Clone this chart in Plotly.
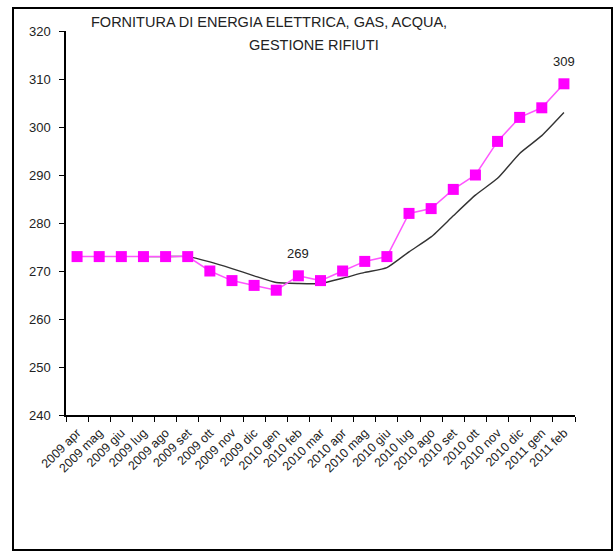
import plotly.graph_objects as go

# Monthly index, April 2009 - February 2011
months = [
    "2009 apr", "2009 mag", "2009 giu", "2009 lug", "2009 ago", "2009 set",
    "2009 ott", "2009 nov", "2009 dic", "2010 gen", "2010 feb", "2010 mar",
    "2010 apr", "2010 mag", "2010 giu", "2010 lug", "2010 ago", "2010 set",
    "2010 ott", "2010 nov", "2010 dic", "2011 gen", "2011 feb",
]
index_values = [
    273, 273, 273, 273, 273, 273, 270, 268, 267, 266, 269, 268,
    270, 272, 273, 282, 283, 287, 290, 297, 302, 304, 309,
]
# trend line (starts in July 2009)
trend_values = [
    None, None, None, 273, 273, 273, 271.9, 270.5, 269, 267.6, 267.4, 267.4,
    268.5, 269.7, 270.7, 274, 277.1, 281.5, 285.8, 289.3, 294.5, 298.2, 303,
]
labelled_months = ["2010 feb", "2011 feb"]
y_ticks = [240, 250, 260, 270, 280, 290, 300, 310, 320]

title_lines = ["FORNITURA DI ENERGIA ELETTRICA, GAS, ACQUA,", "GESTIONE RIFIUTI"]

FONT = "Arial, Liberation Sans, sans-serif"
TEXT_COLOR = "#222222"

# plot area in page pixels
PL, PR, PT, PB = 66, 575, 31, 415
W, H = 616, 553


def px_x(x):
    return (x - PL) / (PR - PL)


def px_y(y):
    return 1 - (y - PT) / (PB - PT)


fig = go.Figure()
fig.add_trace(
    go.Scatter(
        x=months,
        y=trend_values,
        mode="lines",
        line=dict(color="#333333", width=1.4, shape="spline", smoothing=0.5),
        connectgaps=False,
        hoverinfo="skip",
    )
)
fig.add_trace(
    go.Scatter(
        x=months,
        y=index_values,
        mode="lines+markers",
        line=dict(color="#FF55FF", width=1.5),
        marker=dict(symbol="square", size=11, color="#FF00FF"),
    )
)

for m, v in zip(months, index_values):
    if m in labelled_months:
        fig.add_annotation(
            x=m, y=v, text=str(v), showarrow=False, yshift=22,
            font=dict(family=FONT, size=13, color=TEXT_COLOR),
        )

fig.update_xaxes(
    type="category",
    categoryorder="array",
    categoryarray=months,
    range=[-0.5, len(months) - 0.5],
    tickson="boundaries",
    ticks="outside",
    ticklen=5,
    tickcolor="black",
    tickangle=-45,
    ticklabelstandoff=4,
    tickfont=dict(family=FONT, size=12.5, color=TEXT_COLOR),
    showline=True,
    linecolor="black",
    linewidth=1.5,
    showgrid=False,
    zeroline=False,
)
fig.update_yaxes(
    range=[240, 320],
    tickvals=y_ticks,
    ticks="outside",
    ticklen=5,
    tickcolor="black",
    ticklabelstandoff=6,
    tickfont=dict(family=FONT, size=13, color=TEXT_COLOR),
    showline=True,
    linecolor="black",
    linewidth=1.5,
    showgrid=False,
    zeroline=False,
)

# inner half of the crossing tick marks
fig.update_layout(
    xaxis2=dict(
        overlaying="x", anchor="y2", range=[-0.5, len(months) - 0.5],
        tickvals=[i - 0.5 for i in range(len(months) + 1)],
        ticks="inside", ticklen=5, tickcolor="black",
        showticklabels=False, showgrid=False, zeroline=False, showline=False,
    ),
    yaxis2=dict(
        overlaying="y", anchor="x2", range=[240, 320], tickvals=y_ticks,
        ticks="inside", ticklen=5, tickcolor="black",
        showticklabels=False, showgrid=False, zeroline=False, showline=False,
    ),
)

fig.add_annotation(
    text=title_lines[0], xref="paper", yref="paper", x=px_x(269), y=px_y(22),
    xanchor="center", yanchor="middle",
    showarrow=False, font=dict(family=FONT, size=14.5, color=TEXT_COLOR),
)
fig.add_annotation(
    text=title_lines[1], xref="paper", yref="paper", x=px_x(314), y=px_y(45),
    xanchor="center", yanchor="middle",
    showarrow=False, font=dict(family=FONT, size=14.5, color=TEXT_COLOR),
)

# outer chart frame
fig.add_shape(
    type="rect", xref="paper", yref="paper", layer="above",
    x0=px_x(13), x1=px_x(612), y0=px_y(550), y1=px_y(8),
    line=dict(color="black", width=2),
)

fig.update_layout(
    width=W,
    height=H,
    margin=dict(l=PL, r=W - PR, t=PT, b=H - PB),
    paper_bgcolor="white",
    plot_bgcolor="white",
    showlegend=False,
)

fig.write_html(
    "out.html",
    config={"displayModeBar": False},
    post_script="document.body.style.margin = '0';",
)
